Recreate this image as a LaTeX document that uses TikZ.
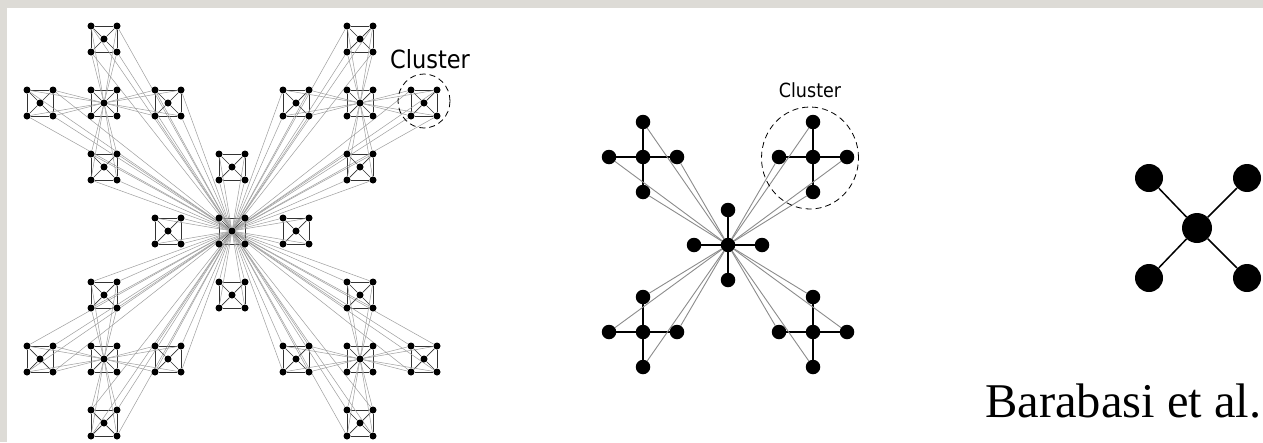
\documentclass[tikz,border=0pt]{standalone}
\usepackage{fontspec}
\newfontfamily\tagfont{DejaVu Sans}[FakeStretch=0.9]
\newfontfamily\citefont{Liberation Serif}
\usepackage{xcolor}
\usepackage{tikz}
\usetikzlibrary{positioning, shapes.geometric}
\pgfdeclarelayer{back}
\pgfdeclarelayer{links}
\pgfsetlayers{back,links,main}
\definecolor{paper}{RGB}{221,219,214}

\begin{document}
\begin{tikzpicture}[
    x=1pt, y=-1pt,
    dot/.style={circle, fill=black, inner sep=0pt, minimum size=7pt},
    mdot/.style={circle, fill=black, inner sep=0pt, minimum size=14.5pt},
    bigdot/.style={circle, fill=black, inner sep=0pt, minimum size=28pt},
    inner/.style={black!80, line width=0.7pt},
    outer/.style={black!38, line width=0.5pt},
    spoke/.style={black, line width=1.3pt},
    ring/.style={ellipse, draw, dashed, dash pattern=on 6pt off 4pt, line width=0.8pt, inner sep=0pt},
    tag/.style={inner sep=0pt, anchor=south}
]
\useasboundingbox (0,0) rectangle (1263,442);
\begin{pgfonlayer}{back}
\fill[paper] (0,0) rectangle (1263,442);
\fill[white] (7,8) rectangle (1263,442);
\end{pgfonlayer}

% Hierarchical network, three levels (left)
\foreach \g/\gx/\gy in {0/0/0, 1/-128/-128, 2/128/-128, 3/-128/128, 4/128/128}
  \foreach \c/\cx/\cy in {0/0/0, 1/0/-64, 2/-64/0, 3/64/0, 4/0/64}
    \foreach \k/\kx/\ky in {0/0/0, 1/-13/-13, 2/13/-13, 3/13/13, 4/-13/13}
      \node[dot] (n-\g-\c-\k) at ({232+\gx+\cx+\kx},{231+\gy+\cy+\ky}) {};

\begin{pgfonlayer}{links}
% links inside each cluster
\foreach \g in {0,...,4}
  \foreach \c in {0,...,4} {
    \foreach \k in {1,...,4}
      \draw[inner] (n-\g-\c-0) -- (n-\g-\c-\k);
    \draw[inner] (n-\g-\c-1) -- (n-\g-\c-2) -- (n-\g-\c-3) -- (n-\g-\c-4) -- (n-\g-\c-1);
  }
% outer corners to the hub of their group
\foreach \g in {0,...,4}
  \foreach \c in {1,...,4}
    \foreach \k in {1,...,4}
      \draw[outer] (n-\g-\c-\k) -- (n-\g-0-0);
% outer corners of outer groups to the main hub
\foreach \g in {1,...,4}
  \foreach \c in {1,...,4}
    \foreach \k in {1,...,4}
      \draw[outer] (n-\g-\c-\k) -- (n-0-0-0);
\end{pgfonlayer}

\node[ring, minimum width=52pt, minimum height=54pt] (lring) at (424,101) {};
\node[tag, font=\tagfont\fontsize{25}{28}\selectfont, above=5pt of lring, xshift=6pt] (ltag) {Cluster};

% Two level network (middle)
\foreach \g/\gx/\gy in {0/0/0, 1/-85/-88, 2/85/-88, 3/-85/87, 4/85/87}
  \foreach \k/\kx/\ky in {0/0/0, 1/0/-35, 2/-34/0, 3/34/0, 4/0/35}
    \node[mdot] (m-\g-\k) at ({728+\gx+\kx},{245+\gy+\ky}) {};

\begin{pgfonlayer}{links}
\foreach \g in {0,...,4}
  \foreach \k in {1,...,4}
    \draw[spoke] (m-\g-0) -- (m-\g-\k);
\foreach \g in {1,...,4}
  \foreach \k in {1,...,4}
    \draw[black!45, line width=0.9pt] (m-\g-\k) -- (m-0-0);
\end{pgfonlayer}

\node[ring, minimum width=97pt, minimum height=102pt] (mring) at (810,158) {};
\node[tag, font=\tagfont\fontsize{19.5}{22}\selectfont, above=9pt of mring] (mtag) {Cluster};

% Single module (right)
\node[bigdot, minimum size=30pt] (r-0) at (1197,228) {};
\node[bigdot] (r-1) at (1149,178) {};
\node[bigdot] (r-2) at (1247,178) {};
\node[bigdot] (r-3) at (1149,278) {};
\node[bigdot] (r-4) at (1247,278) {};
\begin{pgfonlayer}{links}
\foreach \k in {1,...,4}
  \draw[spoke, line width=1.5pt] (r-0) -- (r-\k);
\end{pgfonlayer}

\node[anchor=base west, inner sep=0pt, font=\citefont\fontsize{48.5}{54}\selectfont] (cite) at (985,417) {Barabasi et al.};
\end{tikzpicture}
\end{document}
